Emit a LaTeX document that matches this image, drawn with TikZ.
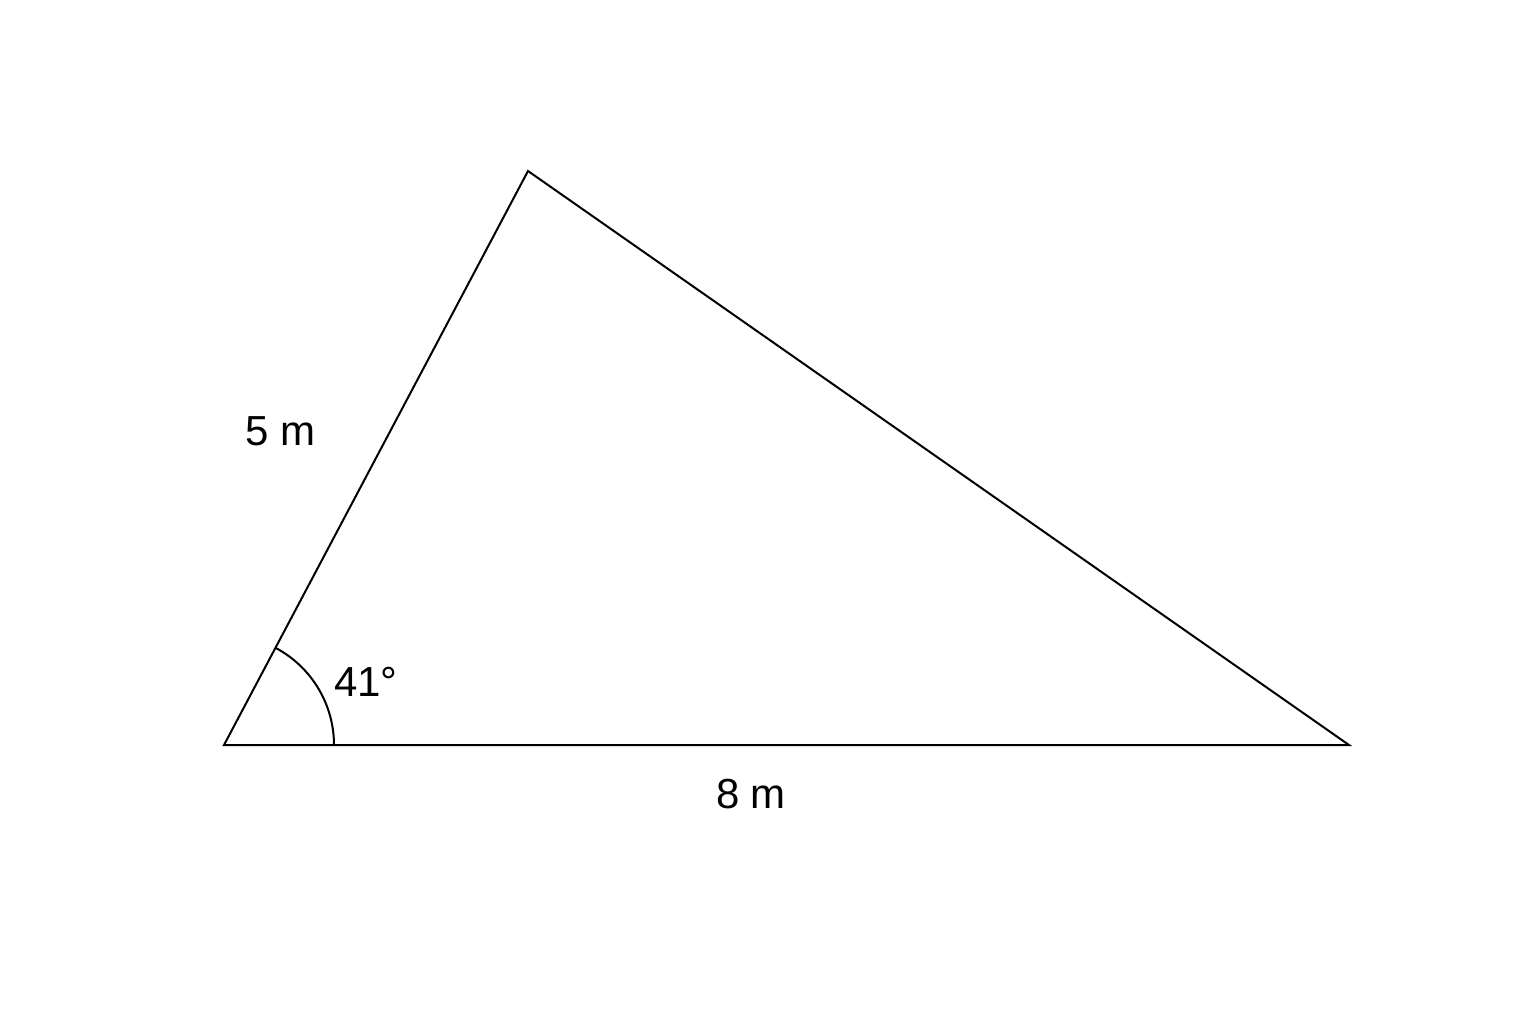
\documentclass[tikz,border=0pt]{standalone}
\usepackage{fontspec}
\setmainfont{Liberation Sans}
\begin{document}
\begin{tikzpicture}[x=0.5pt,y=-0.5pt,
  edge/.style={line width=1pt,line join=miter},
  lbl/.style={font=\fontsize{21}{25}\selectfont,inner sep=0pt}]
\useasboundingbox (0,0) rectangle (1536,1024);
\coordinate (A) at (224,745);
\coordinate (B) at (528,171);
\coordinate (C) at (1349,745);
\draw[edge] (A) -- (B) -- (C) -- cycle;
\draw[line width=1pt] ([xshift=55pt]A) arc[start angle=0,end angle=62.1,radius=55pt];
\node[lbl] (l5) at (281,431) {5 m};
\node[lbl] (l41) at (366,682) {41°};
\node[lbl] (l8) at (751,794) {8 m};
\end{tikzpicture}
\end{document}
